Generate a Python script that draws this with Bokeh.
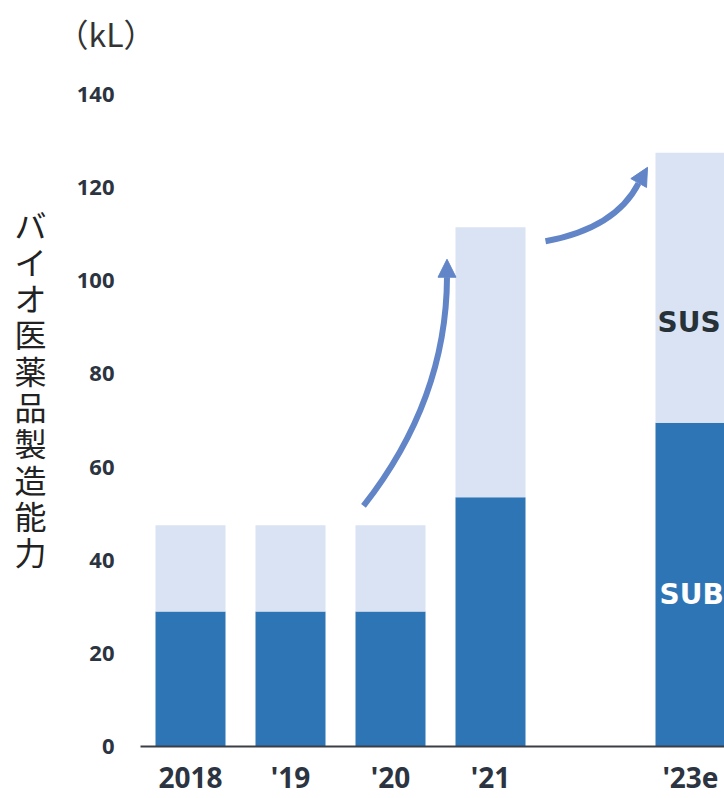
from bokeh.plotting import figure
from bokeh.models import (ColumnDataSource, Range1d, FixedTicker, Label, Arrow, NormalHead,
                          LinearAxis)
from bokeh.embed import file_html
from bokeh.resources import INLINE

# ---- data ----
tick_labels = ["2018", "'19", "'20", "'21", "'23e"]
year_num = [2018, 2019, 2020, 2021, 2023]
sub_vals = [29, 29, 29, 53.5, 69.5]
sus_vals = [18.5, 18.5, 18.5, 58, 58]
series = ["SUB", "SUS"]
colors = ["#2E75B6", "#DAE3F3"]
y_ticks = [0, 20, 40, 60, 80, 100, 120, 140]
unit_text = "（kL）"
axis_title = "バイオ医薬品製造能力"

xpos = [y - year_num[0] for y in year_num]
src = ColumnDataSource(dict(x=xpos, SUB=sub_vals, SUS=sus_vals))

p = figure(width=724, height=798, output_backend="svg", toolbar_location=None,
           x_range=Range1d(-0.5, 5.34), y_range=Range1d(0, 147.3),
           min_border_left=140, min_border_right=0, min_border_top=60,
           min_border_bottom=51, outline_line_color=None, background_fill_color="white")

p.vbar_stack(series, x="x", width=0.7, source=src, color=colors, line_color=None)

# title used as unit label
p.title.text = unit_text
p.title.text_font = "Noto Sans CJK JP"
p.title.text_font_style = "normal"
p.title.text_font_size = "32px"
p.title.text_color = "#333333"
p.title.align = "left"
p.title.offset = -84
p.title.standoff = 10

# axes
p.xgrid.visible = False
p.ygrid.visible = False
tick_color = "#2b3440"
p.xaxis.ticker = FixedTicker(ticks=xpos)
p.xaxis.major_label_overrides = {x: t for x, t in zip(xpos, tick_labels)}
p.xaxis.major_tick_line_color = None
p.xaxis.major_tick_out = 0
p.xaxis.major_tick_in = 0
p.xaxis.minor_tick_line_color = None
p.xaxis.axis_line_color = "#3a3f46"
p.xaxis.axis_line_width = 2
p.xaxis.major_label_text_font = "Noto Sans"
p.xaxis.major_label_text_font_style = "bold"
p.xaxis.major_label_text_font_size = "28px"
p.xaxis.major_label_text_color = tick_color
p.xaxis.major_label_standoff = 11

p.yaxis.ticker = FixedTicker(ticks=y_ticks)
p.yaxis.major_tick_line_color = None
p.yaxis.major_tick_out = 0
p.yaxis.major_tick_in = 0
p.yaxis.minor_tick_line_color = None
p.yaxis.axis_line_color = None
p.yaxis.major_label_text_font = "Noto Sans"
p.yaxis.major_label_text_font_style = "bold"
p.yaxis.major_label_text_font_size = "22px"
p.yaxis.major_label_text_color = tick_color
p.yaxis.major_label_standoff = 26

# vertical (upright, stacked) axis title as an outer axis with one tick label
title_axis = LinearAxis(ticker=FixedTicker(ticks=[77]),
                        major_label_overrides={77: "\n".join(axis_title)},
                        axis_line_color=None, major_tick_line_color=None,
                        major_tick_out=0, major_tick_in=0,
                        minor_tick_line_color=None,
                        major_label_text_font="Noto Sans CJK JP",
                        major_label_text_font_size="32px",
                        major_label_text_color="#222222",
                        major_label_text_line_height=0.79,
                        major_label_standoff=27)
p.add_layout(title_axis, "left")

# series labels inside the last bar
p.add_layout(Label(x=4.67, y=91.0, text="SUS", text_font="DejaVu Sans",
                   text_font_style="bold", text_font_size="28px", text_color="#263238",
                   text_align="left", text_baseline="middle"))
p.add_layout(Label(x=4.69, y=32.7, text="SUB", text_font="DejaVu Sans",
                   text_font_style="bold", text_font_size="28px", text_color="white",
                   text_align="left", text_baseline="middle"))

# growth arrows
arrow_color = "#6285C8"
p.quadratic(x0=[1.73], y0=[51.67], x1=[2.565], y1=[100.77], cx=[2.56], cy=[74.4],
            line_color=arrow_color, line_width=6)
p.add_layout(Arrow(x_start=2.565, y_start=100.56, x_end=2.565, y_end=104.63,
                   line_color=arrow_color, line_width=1,
                   end=NormalHead(size=18, fill_color=arrow_color, line_color=arrow_color)))
p.quadratic(x0=[3.55], y0=[108.49], x1=[4.48], y1=[120.93], cx=[4.25], cy=[111.28],
            line_color=arrow_color, line_width=6)
p.add_layout(Arrow(x_start=4.48, y_start=120.93, x_end=4.57, y_end=124.36,
                   line_color=arrow_color, line_width=1,
                   end=NormalHead(size=18, fill_color=arrow_color, line_color=arrow_color)))

open("out.html", "w").write(file_html(p, INLINE))
